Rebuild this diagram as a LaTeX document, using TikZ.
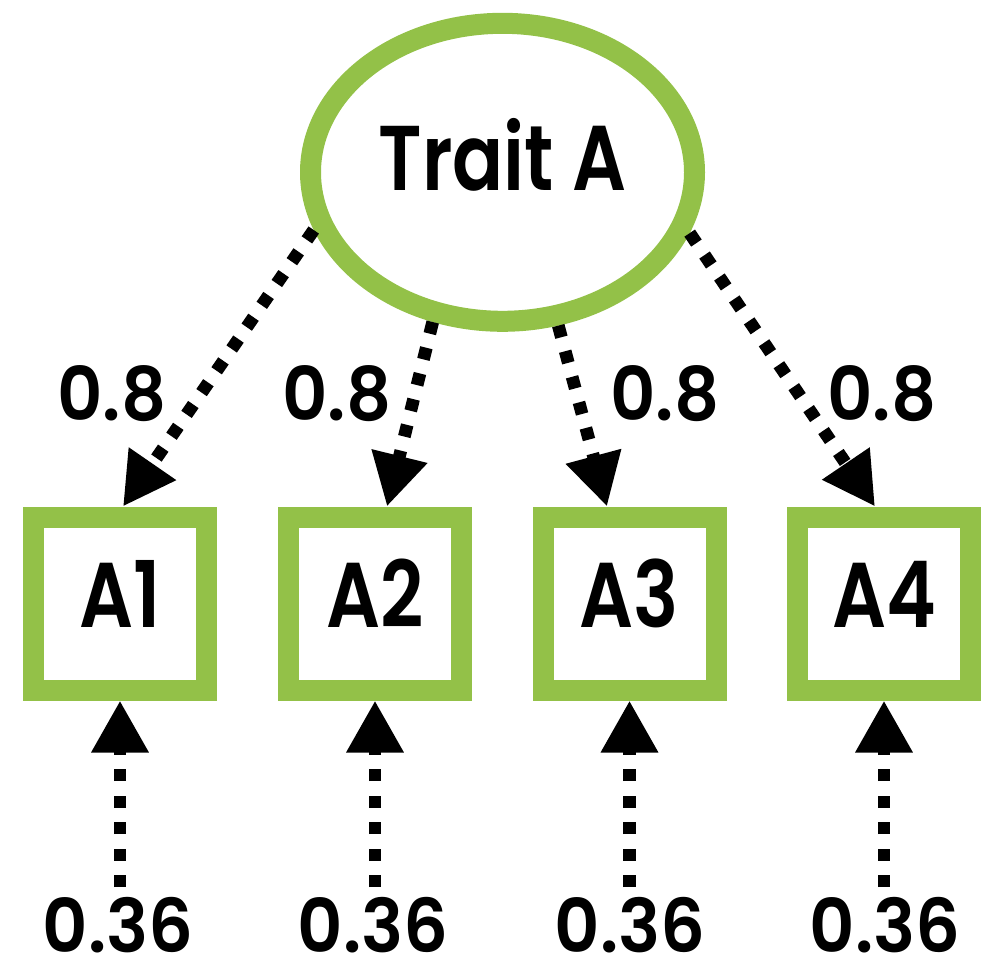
\documentclass[tikz,border=0pt]{standalone}
\usepackage{fontspec}
\setmainfont{Poppins}[UprightFont={* SemiBold}]
\newfontfamily\namefont{Poppins}[UprightFont={* SemiBold},FakeStretch=0.82]
\newfontfamily\numfont{Poppins}[UprightFont={* SemiBold},FakeStretch=0.95]
\usetikzlibrary{shapes.geometric,arrows.meta}
\definecolor{traitgreen}{RGB}{147,193,72}

\begin{document}
\begin{tikzpicture}[x=1pt,y=-1pt,
  latent/.style={ellipse, draw=traitgreen, fill=white, line width=21pt,
    minimum width=384pt, minimum height=298pt, inner sep=0pt,
    text height=60pt, text depth=24.6pt, font=\namefont\fontsize{92}{100}\selectfont},
  indicator/.style={rectangle, draw=traitgreen, fill=white, line width=21pt,
    minimum size=173pt, inner sep=0pt,
    text height=60pt, text depth=13pt, font=\namefont\fontsize{92}{100}\selectfont},
  coef/.style={anchor=base, inner sep=0pt, font=\numfont\fontsize{74}{80}\selectfont},
  loading/.style={line width=12.7pt, dash pattern=on 12pt off 14.5pt,
    -{Triangle[length=52pt,width=54pt]}},
]
\useasboundingbox (0,0) rectangle (990,961);

% latent trait and its four indicators
\node[latent] (trait) at (502.5,172.3) {Trait A};
\node[indicator] (a1) at (120,603.5) {A1};
\node[indicator] (a2) at (375,603.5) {A2};
\node[indicator] (a3) at (629.5,603.5) {A3};
\node[indicator] (a4) at (884,603.5) {A4};

% factor loadings
\draw[loading] (trait.197) -- ([xshift=3pt]a1.north);
\draw[loading] (trait.245.1) -- ([xshift=12pt]a2.north);
\draw[loading] (trait.290.6) -- ([xshift=-22.5pt]a3.north);
\draw[loading] (trait.342.4) -- ([xshift=-9pt]a4.north);

\node[coef] (l1) at (112,420) {0.8};
\node[coef] (l2) at (337,420) {0.8};
\node[coef] (l3) at (665,420) {0.8};
\node[coef] (l4) at (882,420) {0.8};

% residual variances
\coordinate (e1) at (120,887);
\coordinate (e2) at (375,887);
\coordinate (e3) at (629.5,887);
\coordinate (e4) at (884,887);
\draw[loading] (e1) -- (a1.south);
\draw[loading] (e2) -- (a2.south);
\draw[loading] (e3) -- (a3.south);
\draw[loading] (e4) -- (a4.south);

\node[coef] (r1) at (118,952) {0.36};
\node[coef] (r2) at (373,952) {0.36};
\node[coef] (r3) at (630,952) {0.36};
\node[coef] (r4) at (885,952) {0.36};
\end{tikzpicture}
\end{document}
